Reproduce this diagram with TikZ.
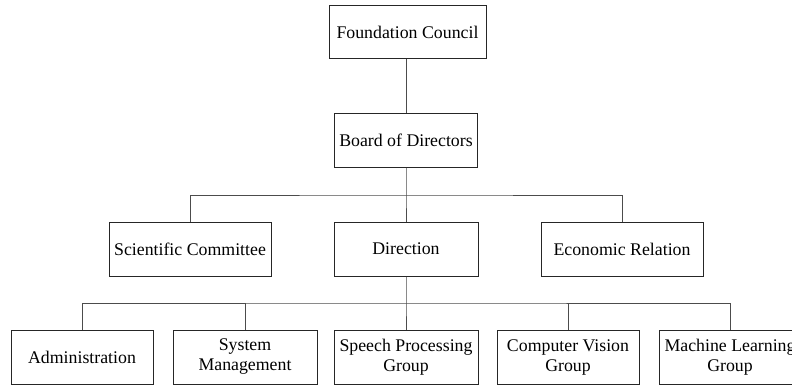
\documentclass[tikz,border=0pt]{standalone}
\usepackage{fontspec}
\setmainfont{Liberation Serif}
\tikzset{
	unit/.style={draw=black!85,line width=1pt,align=center,inner sep=0pt,minimum height=54pt,font=\fontsize{17.8}{20}\selectfont},
	link/.style={draw=black!70,line width=1pt}
}
\begin{document}
\begin{tikzpicture}[x=1pt,y=-1pt]
				\clip (0,0) rectangle (792,385);
				\node[unit,minimum width=157pt,minimum height=53pt] (FC) at (407.5,32.5) {Foundation Council};
				\node[unit,minimum width=143pt,minimum height=53pt] (BD) at (406,140.5) {Board of Directors};
				\node[unit,minimum width=162pt] (SC) at (190,249) {Scientific Committee};
				\node[unit,minimum width=144pt] (DI) at (406,249) {Direction};
				\node[unit,minimum width=162pt] (ER) at (622,249) {Economic Relation};
				\node[unit,minimum width=142pt] (AD) at (82,357) {Administration};
				\node[unit,minimum width=144pt] (SM) at (245,357) {System\\Management};
				\node[unit,minimum width=144pt] (SP) at (406,357) {Speech Processing\\Group};
				\node[unit,minimum width=142pt] (CV) at (568,357) {Computer Vision\\Group};
				\node[unit,minimum width=142pt] (ML) at (730,357) {Machine Learning\\Group};
				\coordinate (busA) at (406,195);
				\coordinate (busB) at (406,303);
				% upper levels
				\draw[link] (BD |- FC.south) -- (BD);
				\draw[link] (BD) -- (busA) -- (DI);
				\draw[link] (SC.north) |- (busA) -| (ER.north);
				% groups
				\draw[link] (DI) -- (busB) -- (SP);
				\draw[link] (AD.north) |- (busB) -| (ML.north);
				\draw[link] (SM.north) -- (SM.north |- busB);
				\draw[link] (CV.north) -- (CV.north |- busB);
\end{tikzpicture}
\end{document}
